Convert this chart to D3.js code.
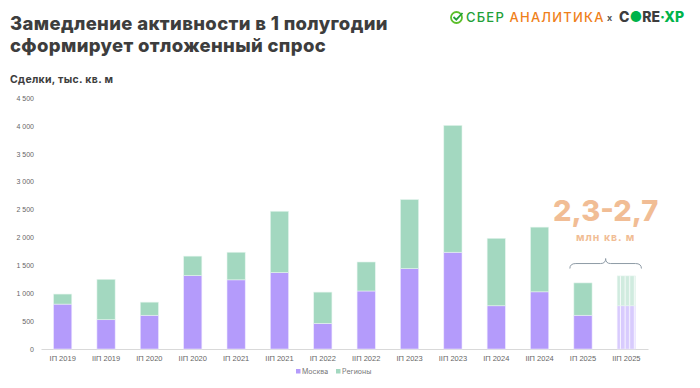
<!DOCTYPE html>
<html>
<head>
<meta charset="utf-8">
<script src="https://cdn.jsdelivr.net/npm/d3@7"></script>
<style>
  body { margin: 0; background: #fff; }
  svg { display: block; font-family: Inter, 'Open Sans', sans-serif; }
</style>
</head>
<body>
<div class="container"></div>
<script>
// data, тыс. кв. м
const categories = ['IП 2019', 'IIП 2019', 'IП 2020', 'IIП 2020', 'IП 2021', 'IIП 2021', 'IП 2022',
    'IIП 2022', 'IП 2023', 'IIП 2023', 'IП 2024', 'IIП 2024', 'IП 2025', 'IIП 2025'];
const moscow = [805, 525, 605, 1315, 1240, 1370, 460, 1040, 1440, 1735, 775, 1025, 605, 775];
const regions = [180, 725, 235, 350, 495, 1100, 560, 520, 1240, 2275, 1210, 1160, 580, 535];
const forecast = ['IIП 2025'];
const yTicks = [0, 500, 1000, 1500, 2000, 2500, 3000, 3500, 4000, 4500];

const w = 700;
const h = 388;

const margin = {
    top: 98,
    right: 52,
    bottom: 39,
    left: 41
};

const colors = {
    moscow: '#b49bfb',
    regions: '#a3d8c0',
    moscowLight: '#d8cbfd',
    regionsLight: '#d0ebdf'
};

const svg = d3.select('.container')
    .append('svg')
    .attr('width', w)
    .attr('height', h);

// striped fill for the forecast bar
const defs = svg.append('defs');
[['stripeM', colors.moscowLight], ['stripeR', colors.regionsLight]].forEach(([id, c]) => {
    const p = defs.append('pattern')
        .attr('id', id)
        .attr('patternUnits', 'userSpaceOnUse')
        .attr('width', 4.6)
        .attr('height', 10);
    p.append('rect').attr('width', 4.6).attr('height', 10).attr('fill', c);
    p.append('rect').attr('x', 3.6).attr('width', 1).attr('height', 10).attr('fill', '#fff').attr('opacity', 0.8);
});

// title
const title = svg.append('text')
    .attr('x', 10)
    .attr('y', 30)
    .style('font-size', '18.5px')
    .style('font-weight', 800)
    .style('letter-spacing', '0.35px')
    .attr('fill', '#3d3d3d');
title.append('tspan').attr('x', 10).text('Замедление активности в 1 полугодии');
title.append('tspan').attr('x', 10).attr('dy', 22).text('сформирует отложенный спрос');

svg.append('text')
    .attr('x', 10)
    .attr('y', 83)
    .style('font-size', '10.5px')
    .style('font-weight', 700)
    .style('letter-spacing', '0.3px')
    .attr('fill', '#3d3d3d')
    .text('Сделки, тыс. кв. м');

// logos
const logo = svg.append('g').attr('transform', 'translate(450,0)');
logo.append('circle')
    .attr('cx', 6.5).attr('cy', 17.5).attr('r', 5.5)
    .attr('fill', 'none').attr('stroke', '#5cbf2a').attr('stroke-width', 1.8);
logo.append('path')
    .attr('d', 'M3.5,17 L6.3,19.7 L12.5,13')
    .attr('fill', 'none').attr('stroke', '#21a038').attr('stroke-width', 1.8);
const logoText = logo.append('text')
    .attr('x', 16)
    .attr('y', 22)
    .style('font-size', '13px')
    .style('font-weight', 500)
    .style('letter-spacing', '1.2px');
logoText.append('tspan').attr('fill', '#21a038').text('СБЕР ');
logoText.append('tspan').attr('fill', '#ef7f1a').text('АНАЛИТИКА');
logo.append('text')
    .attr('x', 157).attr('y', 21)
    .style('font-size', '9px').style('font-weight', 700)
    .attr('fill', '#555').text('x');
const core = logo.append('text')
    .attr('x', 169)
    .attr('y', 22)
    .style('font-size', '14px')
    .style('font-weight', 800);
core.append('tspan').attr('fill', '#3d3d3d').text('C');
core.append('tspan').attr('fill', '#00b34a').text('●');
core.append('tspan').attr('fill', '#3d3d3d').text('RE');
core.append('tspan').attr('fill', '#00b34a').text('·XP');

// scales
const x = d3.scaleBand()
    .domain(categories)
    .range([margin.left, w - margin.right])
    .paddingInner(0.58)
    .paddingOuter(0.29);

const y = d3.scaleLinear()
    .domain([0, 4500])
    .range([h - margin.bottom, margin.top]);

const fmt = d => d3.format(',')(d).replace(/,/g, ' ');

// y axis
const yAxis = svg.append('g')
    .attr('transform', `translate(${margin.left - 5},0)`)
    .call(d3.axisLeft(y).tickValues(yTicks).tickFormat(fmt).tickSize(0));
yAxis.select('.domain').remove();
yAxis.selectAll('text')
    .attr('fill', '#666')
    .style('font-size', '7px')
    .attr('x', -2);

// x axis
const xAxis = svg.append('g')
    .attr('transform', `translate(0,${h - margin.bottom})`)
    .call(d3.axisBottom(x).tickSize(0));
xAxis.select('.domain').attr('stroke', '#d9d9d9');
xAxis.selectAll('text')
    .attr('fill', '#666')
    .style('font-size', '7.5px')
    .attr('dy', '1.2em');

// bars
const stack = categories.map((c, i) => ({
    cat: c,
    m: moscow[i],
    r: regions[i],
    fc: forecast.includes(c)
}));

const bars = svg.append('g');
bars.selectAll('.m')
    .data(stack)
    .join('rect')
    .attr('class', 'm')
    .attr('x', d => x(d.cat))
    .attr('width', x.bandwidth())
    .attr('y', d => y(d.m))
    .attr('height', d => y(0) - y(d.m))
    .attr('fill', d => d.fc ? 'url(#stripeM)' : colors.moscow)
    .attr('stroke', '#ede6ff')
    .attr('stroke-width', 0.6);

bars.selectAll('.r')
    .data(stack)
    .join('rect')
    .attr('class', 'r')
    .attr('x', d => x(d.cat))
    .attr('width', x.bandwidth())
    .attr('y', d => y(d.m + d.r))
    .attr('height', d => y(d.m) - y(d.m + d.r))
    .attr('fill', d => d.fc ? 'url(#stripeR)' : colors.regions)
    .attr('stroke', '#e6f5ee')
    .attr('stroke-width', 0.6);

// annotation: forecast for 2025
const a0 = x('IП 2025') - 4;
const a1 = x('IIП 2025') + x.bandwidth() + 6;
const am = (a0 + a1) / 2;
const by = y(1550);
svg.append('path')
    .attr('d', `M${a0},${by + 6} Q${a0},${by + 1} ${a0 + 6},${by + 1} L${am - 5},${by + 1} Q${am},${by + 1} ${am},${by - 4} Q${am},${by + 1} ${am + 5},${by + 1} L${a1 - 6},${by + 1} Q${a1},${by + 1} ${a1},${by + 6}`)
    .attr('fill', 'none')
    .attr('stroke', '#8e9ba6')
    .attr('stroke-width', 1);

svg.append('text')
    .attr('x', am)
    .attr('y', 221)
    .attr('text-anchor', 'middle')
    .style('font-size', '29px')
    .style('font-weight', 800)
    .attr('fill', '#f1bd95')
    .text('2,3-2,7');
svg.append('text')
    .attr('x', am)
    .attr('y', 241)
    .attr('text-anchor', 'middle')
    .style('font-size', '10.5px')
    .style('font-weight', 700)
    .style('letter-spacing', '1px')
    .attr('fill', '#f1bd95')
    .text('млн кв. м');

// legend
const legend = svg.append('g').attr('transform', 'translate(296,373)');
[['Москва', colors.moscow, 0], ['Регионы', colors.regions, 40]].forEach(([t, c, dx]) => {
    legend.append('rect').attr('x', dx).attr('y', -4).attr('width', 4.5).attr('height', 4.5).attr('fill', c);
    legend.append('text').attr('x', dx + 6).attr('y', 0.5)
        .style('font-size', '7px').attr('fill', '#777').text(t);
});
</script>
</body>
</html>
